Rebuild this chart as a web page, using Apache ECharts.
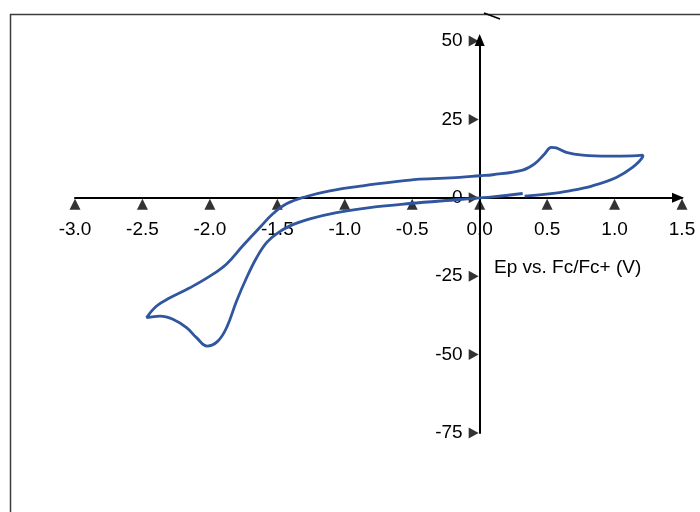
<!DOCTYPE html>
<html>
<head>
<meta charset="utf-8">
<script src="https://cdn.jsdelivr.net/npm/echarts@6/dist/echarts.min.js"></script>
<style>
html,body{margin:0;padding:0;background:#fff;}
#chart{width:700px;height:512px;}
</style>
</head>
<body>
<div id="chart"></div>
<script>
// Cyclic voltammogram, scan order starting at ~0.33 V
const potential = [0.333, 0.494, 0.667, 0.837, 1.013, 1.133, 1.207, 1.21,
  1.133, 0.963, 0.763, 0.642, 0.568, 0.531, 0.481, 0.407, 0.319, 0.096, 0.0, -0.148, -0.444, -0.519,
  -0.867, -1.111, -1.284, -1.432, -1.533, -1.630, -1.756, -1.876, -2.0, -2.148, -2.296, -2.395, -2.469,
  -2.370, -2.274, -2.173, -2.099, -2.020, -1.941, -1.876, -1.802, -1.728, -1.654, -1.580, -1.506,
  -1.407, -1.259, -1.061, -0.815, -0.519, -0.148, 0.096, 0.319];
const current = [0.54, 1.18, 2.24, 3.83, 6.49, 9.68, 12.9, 13.6,
  13.4, 13.3, 13.6, 14.5, 15.9, 16.1, 14.0, 10.8, 8.85, 7.35, 7.03, 6.49, 5.97, 5.65,
  3.83, 2.24, 0.42, -1.92, -5.11, -9.49, -15.3, -21.1, -25.0, -28.7, -31.9, -34.5, -38.2,
  -37.7, -38.7, -41.4, -44.6, -47.3, -45.7, -41.4, -32.9, -25.5, -19.1, -14.3, -11.5,
  -8.95, -6.71, -4.70, -3.10, -1.82, -0.54, 0.32, 1.37];

const xTicks = [-3.0, -2.5, -2.0, -1.5, -1.0, -0.5, 0.0, 0.5, 1.0, 1.5];
const yTicks = [-75, -50, -25, 0, 25, 50];
const xAxisTitle = 'Ep vs. Fc/Fc+ (V)';

const FONT = 'Liberation Sans, Arial, sans-serif';

const cvData = potential.map((v, i) => [v, current[i]]);
const xTickData = xTicks.map(v => [v, 0]);
const yTickData = yTicks.map(v => [0, v]);

// grid geometry
const GL = 75, GR = 18, GT = 41, GB = 79, W = 700, H = 512;
const gw = W - GL - GR, gh = H - GT - GB;
const xMin = -3, xMax = 1.5, yMin = -75, yMax = 50;
const zeroXpx = (0 - xMin) / (xMax - xMin) * gw;      // distance from grid left to x=0
const zeroYpx = (0 - yMin) / (yMax - yMin) * gh;      // distance from grid bottom to y=0

const chart = echarts.init(document.getElementById('chart'), null, {renderer: 'canvas'});
chart.setOption({
  animation: false,
  backgroundColor: '#ffffff',
  title: {
    text: xAxisTitle,
    left: 494, top: 258, padding: 0,
    textStyle: {fontFamily: FONT, fontSize: 19, fontWeight: 'normal', color: '#000'}
  },
  grid: {left: GL, right: GR, top: GT, bottom: GB, containLabel: false},
  xAxis: {
    type: 'value', min: xMin, max: xMax, interval: 0.5,
    position: 'bottom', offset: -zeroYpx,
    axisLine: {onZero: false, symbol: ['none', 'triangle'], symbolSize: [10, 12], symbolOffset: [0, -4],
      lineStyle: {color: '#000', width: 2}},
    axisTick: {show: false},
    splitLine: {show: false},
    axisLabel: {margin: 22, color: '#000', fontFamily: FONT, fontSize: 19,
      formatter: v => v.toFixed(1), showMinLabel: true, showMaxLabel: true}
  },
  yAxis: {
    type: 'value', min: yMin, max: yMax, interval: 25,
    position: 'left', offset: -zeroXpx,
    axisLine: {onZero: false, symbol: ['none', 'triangle'], symbolSize: [10, 12], symbolOffset: [0, 1],
      lineStyle: {color: '#000', width: 2}},
    axisTick: {show: false},
    splitLine: {show: false},
    axisLabel: {margin: 17, color: '#000', fontFamily: FONT, fontSize: 19,
      showMinLabel: true, showMaxLabel: true}
  },
  series: [
    {
      type: 'scatter', data: xTickData, symbol: 'triangle', symbolSize: [11, 11],
      symbolOffset: [0, 6.5], itemStyle: {color: '#000'}, silent: true, clip: false, z: 3
    },
    {
      type: 'scatter', data: yTickData, symbol: 'triangle', symbolSize: [11, 10],
      symbolRotate: -90, symbolOffset: [-6, 0], itemStyle: {color: '#000'}, silent: true, clip: false, z: 3
    },
    {
      type: 'line', data: cvData, showSymbol: false, smooth: 0.4,
      lineStyle: {color: '#2f569f', width: 2.8}, itemStyle: {color: '#2f569f'},
      clip: false, z: 4, silent: true
    }
  ],
  graphic: [
    {type: 'rect', shape: {x: 10.5, y: 14.5, width: 800, height: 600},
      style: {fill: 'none', stroke: '#3c3c3c', lineWidth: 1.5}, silent: true, z: 0},
    {type: 'line', shape: {x1: 484, y1: 13, x2: 500, y2: 19},
      style: {stroke: '#000', lineWidth: 1.5}, silent: true}
  ]
});
</script>
</body>
</html>
